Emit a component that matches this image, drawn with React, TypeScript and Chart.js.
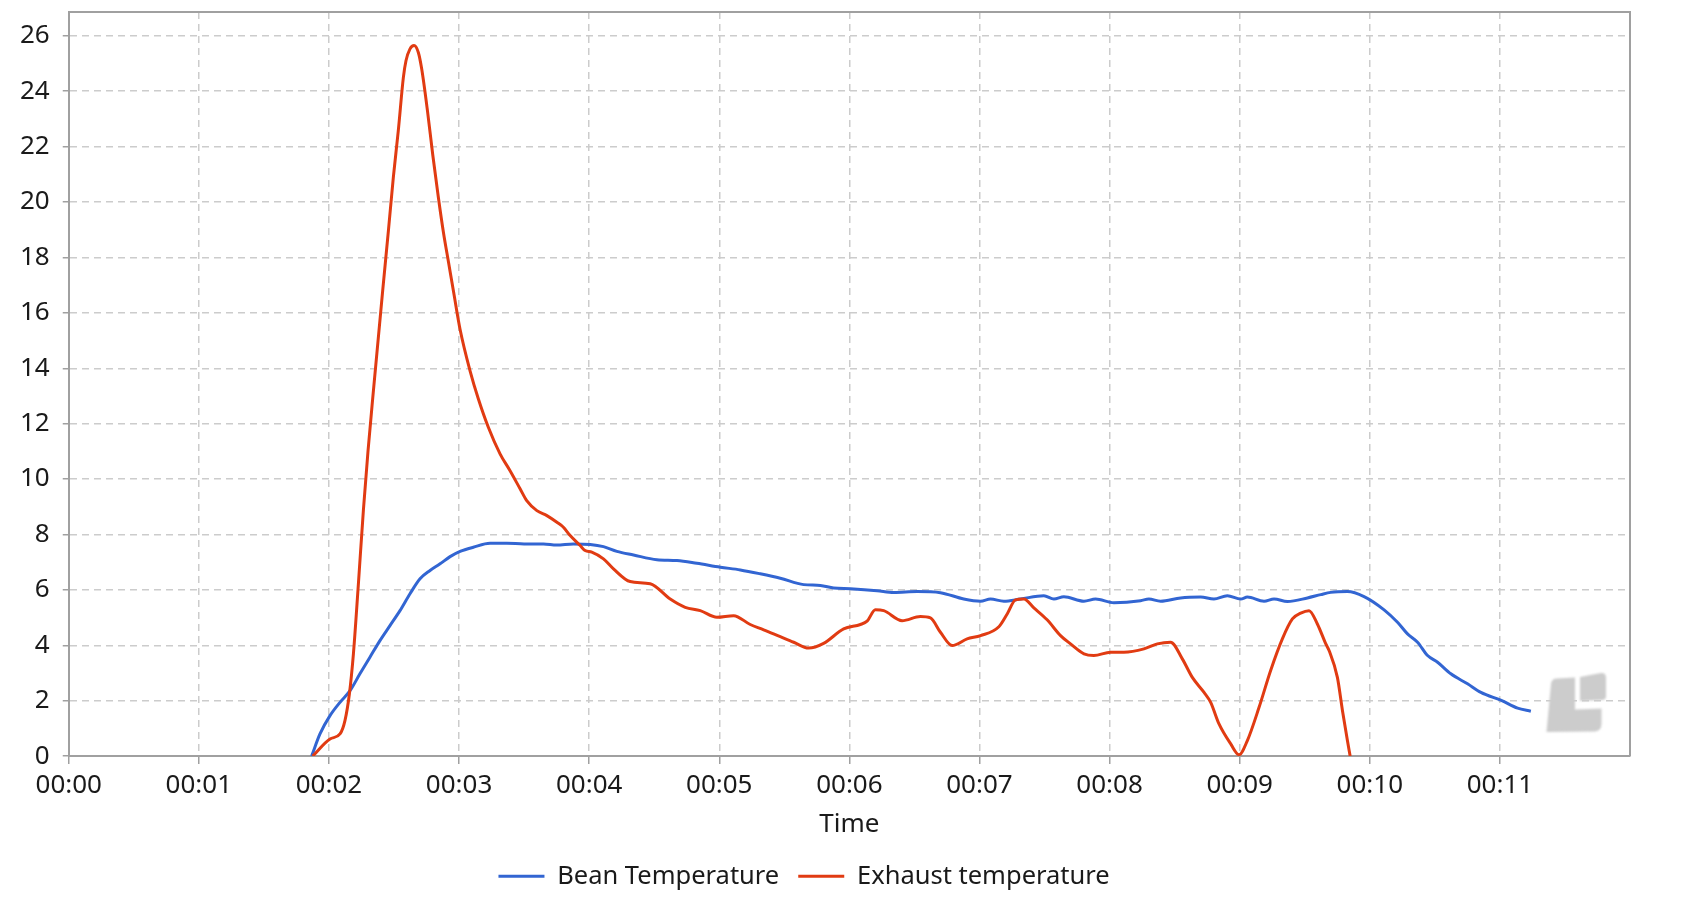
import React, { useEffect, useRef } from 'react';
import { Chart, registerables } from 'chart.js';

Chart.register(...registerables);

// ---- data (time in minutes, temperature values) ----
const seriesLabels = ['Bean Temperature', 'Exhaust temperature'];

const beanTime = [
  1.867, 1.931, 2.008, 2.085, 2.162, 2.238, 2.315, 2.392, 2.469, 2.546, 2.623, 2.7, 2.777, 2.854,
  2.931, 3.008, 3.11, 3.238, 3.367, 3.5, 3.649, 3.75, 3.879, 4.008, 4.11, 4.213, 4.341, 4.521,
  4.675, 4.828, 5.008, 5.162, 5.315, 5.469, 5.649, 5.777, 5.879, 6.008, 6.213, 6.341, 6.521, 6.7,
  6.879, 7.008, 7.085, 7.187, 7.315, 7.495, 7.572, 7.649, 7.803, 7.892, 8.033, 8.238, 8.302, 8.392,
  8.546, 8.7, 8.802, 8.905, 9.008, 9.059, 9.187, 9.264, 9.367, 9.521, 9.623, 9.7, 9.828, 9.956,
  10.11, 10.213, 10.29, 10.367, 10.444, 10.521, 10.623, 10.751, 10.854, 11.015, 11.136, 11.238,
];
const beanTemp = [
  0.0, 0.8, 1.46, 1.94, 2.36, 2.97, 3.57, 4.17, 4.71, 5.25, 5.86, 6.4, 6.7, 6.94,
  7.2, 7.39, 7.54, 7.68, 7.68, 7.66, 7.66, 7.62, 7.66, 7.64, 7.56, 7.39, 7.26, 7.09,
  7.06, 6.96, 6.82, 6.72, 6.58, 6.42, 6.19, 6.16, 6.07, 6.04, 5.97, 5.91, 5.94, 5.9,
  5.67, 5.59, 5.67, 5.59, 5.67, 5.79, 5.67, 5.75, 5.59, 5.67, 5.54, 5.61, 5.67, 5.59,
  5.71, 5.74, 5.67, 5.79, 5.67, 5.74, 5.59, 5.67, 5.58, 5.71, 5.83, 5.91, 5.94, 5.76,
  5.28, 4.83, 4.41, 4.11, 3.63, 3.39, 2.97, 2.61, 2.3, 2.0, 1.73, 1.62,
];

const exhaustTime = [
  1.875, 2.008, 2.085, 2.123, 2.157, 2.188, 2.226, 2.265, 2.3, 2.34, 2.413, 2.457, 2.495, 2.533,
  2.572, 2.592, 2.623, 2.654, 2.687, 2.713, 2.757, 2.798, 2.84, 2.88, 2.92, 2.96, 3.008, 3.085,
  3.148, 3.225, 3.315, 3.392, 3.469, 3.52, 3.598, 3.675, 3.752, 3.802, 3.854, 3.931, 3.969, 4.02,
  4.11, 4.187, 4.315, 4.469, 4.623, 4.738, 4.854, 4.982, 5.11, 5.238, 5.341, 5.469, 5.572, 5.687,
  5.802, 5.956, 6.085, 6.136, 6.2, 6.264, 6.405, 6.546, 6.623, 6.7, 6.79, 6.905, 7.008, 7.149,
  7.213, 7.277, 7.341, 7.418, 7.52, 7.623, 7.7, 7.803, 7.879, 8.008, 8.11, 8.264, 8.367, 8.469,
  8.559, 8.636, 8.726, 8.777, 8.841, 8.931, 8.995, 9.059, 9.149, 9.238, 9.328, 9.405, 9.469, 9.533,
  9.597, 9.662, 9.687, 9.751, 9.79, 9.828, 9.849,
];
const exhaustTemp = [
  0.0, 0.62, 0.8, 1.28, 2.24, 3.69, 6.2, 8.9, 11.0, 13.1, 16.8, 18.97, 20.9, 22.58,
  24.5, 25.1, 25.53, 25.65, 25.4, 24.8, 23.3, 21.7, 20.2, 18.9, 17.8, 16.7, 15.4, 13.9,
  12.9, 11.87, 10.91, 10.3, 9.65, 9.22, 8.86, 8.68, 8.44, 8.26, 7.96, 7.6, 7.42, 7.36,
  7.12, 6.76, 6.3, 6.22, 5.67, 5.37, 5.25, 5.01, 5.07, 4.75, 4.56, 4.31, 4.11, 3.9,
  4.07, 4.59, 4.75, 4.87, 5.28, 5.25, 4.89, 5.04, 4.99, 4.47, 3.99, 4.23, 4.35, 4.67,
  5.13, 5.64, 5.67, 5.35, 4.92, 4.35, 4.05, 3.69, 3.63, 3.75, 3.75, 3.87, 4.05, 4.11,
  3.51, 2.84, 2.3, 1.94, 1.16, 0.44, 0.05, 0.56, 1.76, 3.09, 4.23, 4.95, 5.16, 5.25,
  4.77, 4.05, 3.81, 2.84, 1.64, 0.56, 0.0,
];

const xTickValues = [0, 1, 2, 3, 4, 5, 6, 7, 8, 9, 10, 11];
const yTickValues = [0, 2, 4, 6, 8, 10, 12, 14, 16, 18, 20, 22, 24, 26];
const xAxisTitle = 'Time';

// ---- styles ----
const BLUE = '#3265d2';
const RED = '#e13b12';
const FONT_FAMILY = "'Noto Sans', 'Open Sans', sans-serif";
const TEXT = '#1a1a1a';
const AXIS = '#a0a0a0';
const GRID = '#cccccc';

const frameAndLogo = {
  id: 'frameAndLogo',
  beforeDatasetsDraw(chart: any) {
    const { ctx, chartArea: a } = chart;
    ctx.save();
    ctx.strokeStyle = AXIS;
    ctx.lineWidth = 2;
    ctx.beginPath();
    ctx.moveTo(a.left, a.top);
    ctx.lineTo(a.right, a.top);
    ctx.lineTo(a.right, a.bottom);
    ctx.stroke();

    // watermark logo
    const R = a.right;
    const B = a.bottom;
    ctx.fillStyle = '#cccccc';
    ctx.filter = 'blur(0.8px)';
    // L-shaped piece
    ctx.beginPath();
    ctx.moveTo(R - 83.5, B - 24);
    ctx.lineTo(R - 79, B - 72);
    ctx.quadraticCurveTo(R - 78.5, B - 77.5, R - 73, B - 77.5);
    ctx.lineTo(R - 55, B - 78.5);
    ctx.lineTo(R - 55, B - 46.5);
    ctx.lineTo(R - 28.5, B - 47.5);
    ctx.lineTo(R - 28.5, B - 32);
    ctx.quadraticCurveTo(R - 28.5, B - 25, R - 35, B - 24.5);
    ctx.closePath();
    ctx.fill();
    // small square piece
    ctx.beginPath();
    ctx.moveTo(R - 50, B - 55);
    ctx.lineTo(R - 50, B - 79);
    ctx.lineTo(R - 29, B - 83);
    ctx.quadraticCurveTo(R - 24, B - 83.5, R - 24, B - 78);
    ctx.lineTo(R - 24, B - 59);
    ctx.quadraticCurveTo(R - 24.5, B - 56, R - 28, B - 56);
    ctx.closePath();
    ctx.fill();
    ctx.restore();
  },
};

const legendShift = {
  id: 'legendShift',
  afterLayout(chart: any) {
    const lg = chart.legend;
    if (!lg) return;
    const a = chart.chartArea;
    const target = a.left + (a.right - a.left) * 0.471;
    const dx = target - (lg.left + lg.right) / 2;
    lg.left += dx;
    lg.right += dx;
  },
};

export default function App() {
  const canvasRef = useRef<HTMLCanvasElement | null>(null);

  useEffect(() => {
    if (!canvasRef.current) return;
    const font = { family: FONT_FAMILY, size: 26 };
    const chart = new Chart(canvasRef.current, {
      type: 'line',
      data: {
        datasets: [
          {
            label: seriesLabels[0],
            data: beanTime.map((t, i) => ({ x: t, y: beanTemp[i] })),
            borderColor: BLUE,
            backgroundColor: BLUE,
            borderWidth: 3,
            pointRadius: 0,
            cubicInterpolationMode: 'monotone',
            fill: false,
            order: 1,
          },
          {
            label: seriesLabels[1],
            data: exhaustTime.map((t, i) => ({ x: t, y: exhaustTemp[i] })),
            borderColor: RED,
            backgroundColor: RED,
            borderWidth: 3,
            pointRadius: 0,
            cubicInterpolationMode: 'monotone',
            fill: false,
            order: 0,
          },
        ],
      },
      options: {
        animation: false,
        responsive: true,
        maintainAspectRatio: false,
        layout: { padding: { left: 12, right: 48, top: 4, bottom: 7 } },
        plugins: {
          legend: {
            position: 'bottom',
            labels: {
              usePointStyle: true,
              pointStyle: 'line',
              pointStyleWidth: 46,
              font: { family: FONT_FAMILY, size: 25.5 },
              color: TEXT,
              padding: 19,
              sort: (a: any, b: any) => a.datasetIndex - b.datasetIndex,
            },
          },
          tooltip: { enabled: false },
        },
        scales: {
          x: {
            type: 'linear',
            min: 0,
            max: 12,
            afterBuildTicks: (s: any) => {
              s.ticks = xTickValues.map((v) => ({ value: v }));
            },
            afterFit: (s: any) => {
              s.height -= 8;
            },
            ticks: {
              callback: (v: any) => '00:' + String(Number(v)).padStart(2, '0'),
              font,
              color: TEXT,
              padding: 6,
              maxRotation: 0,
              autoSkip: false,
            },
            grid: {
              color: GRID,
              lineWidth: 1.5,
              tickLength: 8,
              tickColor: AXIS,
              tickWidth: 1.5,
              tickBorderDash: [],
            },
            border: { color: AXIS, width: 2, dash: [7, 5] },
            title: {
              display: true,
              text: xAxisTitle,
              font,
              color: TEXT,
              padding: { top: 10, bottom: 4 },
            },
          },
          y: {
            type: 'linear',
            min: 0,
            max: 26.86,
            afterBuildTicks: (s: any) => {
              s.ticks = yTickValues.map((v) => ({ value: v }));
            },
            afterFit: (s: any) => {
              s.width -= s.options.ticks.padding;
              s.paddingTop = 0;
              s.paddingBottom = 0;
            },
            ticks: { font, color: TEXT, padding: 13 },
            grid: {
              color: GRID,
              lineWidth: 1.5,
              tickLength: 6,
              tickColor: AXIS,
              tickWidth: 1.5,
              tickBorderDash: [],
            },
            border: { color: AXIS, width: 2, dash: [7, 5] },
          },
        },
      },
      plugins: [frameAndLogo, legendShift],
    } as any);
    return () => chart.destroy();
  }, []);

  return (
    <div style={{ position: 'relative', width: 1670, height: 898 }}>
      <canvas ref={canvasRef} />
    </div>
  );
}
